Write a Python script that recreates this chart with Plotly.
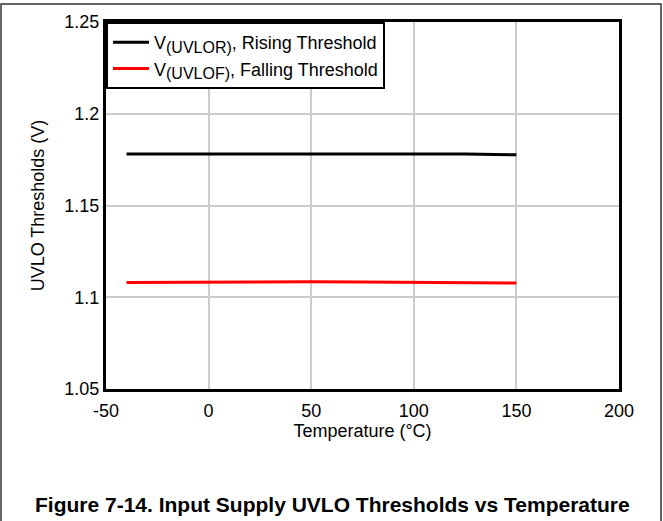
import plotly.graph_objects as go

temps = [-40, -20, 0, 25, 50, 75, 100, 125, 150]
rising = [1.178, 1.178, 1.1782, 1.1783, 1.1783, 1.1782, 1.1782, 1.1781, 1.1776]
falling = [1.108, 1.1081, 1.1083, 1.1085, 1.1084, 1.1083, 1.1082, 1.1082, 1.1078]
xticks = [-50, 0, 50, 100, 150, 200]
xtick_text = ["-50", "0", "50", "100", "150", "200"]
yticks = [1.05, 1.1, 1.15, 1.2, 1.25]
ytick_text = ["1.05", "1.1", "1.15", "1.2", "1.25"]

W, H = 663, 521
L, R, T, B = 106, 44, 20, 132
pw, ph = W - L - R, H - T - B

def px(xp):
    return (xp - L) / pw

def py(yp):
    return (H - B - yp) / ph

sub = '<sub><span style="font-size:16px">{}</span></sub>'

fig = go.Figure()
fig.add_trace(go.Scatter(x=temps, y=rising, mode="lines",
                         line=dict(color="black", width=3),
                         name="V" + sub.format("(UVLOR)") + ", Rising Threshold"))
fig.add_trace(go.Scatter(x=temps, y=falling, mode="lines",
                         line=dict(color="#ff0000", width=3),
                         name="V" + sub.format("(UVLOF)") + ", Falling Threshold"))

fig.update_layout(
    width=W, height=H,
    margin=dict(l=L, r=R, t=T, b=B),
    paper_bgcolor="white", plot_bgcolor="white",
    font=dict(family="Liberation Sans, Arial, sans-serif", size=18, color="black"),
    showlegend=True,
    legend=dict(x=0, y=1, xanchor="left", yanchor="top",
                bordercolor="black", borderwidth=2, bgcolor="white",
                font=dict(size=18), tracegroupgap=0, itemwidth=36),
    xaxis=dict(range=[-50, 200], tickvals=xticks, ticktext=xtick_text,
               showgrid=True, gridcolor="#cccccc", gridwidth=1.5,
               showline=True, linecolor="black", linewidth=3, mirror=True,
               ticks="outside", ticklen=3, tickcolor="rgba(0,0,0,0)", zeroline=False,
               title=dict(text="Temperature (°C)", standoff=4, font=dict(size=18))),
    yaxis=dict(range=[1.05, 1.25], tickvals=yticks, ticktext=ytick_text,
               showgrid=True, gridcolor="#cccccc", gridwidth=1.5,
               showline=True, linecolor="black", linewidth=3, mirror=True,
               ticks="", zeroline=False,
               title=dict(text="UVLO Thresholds (V)", standoff=16, font=dict(size=18))),
)

fig.add_shape(type="rect", xref="paper", yref="paper",
              x0=px(1), x1=px(661), y0=py(530), y1=py(2),
              line=dict(color="#333333", width=1.5), fillcolor="rgba(0,0,0,0)",
              layer="below")

fig.add_annotation(xref="paper", yref="paper", x=px(332), y=py(505),
                   xanchor="center", yanchor="middle", showarrow=False,
                   text="<b>Figure 7-14. Input Supply UVLO Thresholds vs Temperature</b>",
                   font=dict(size=21, color="black"))

fig.write_html("out.html", config={"displayModeBar": False},
               post_script="document.body.style.margin='0';document.body.style.overflow='hidden';")
